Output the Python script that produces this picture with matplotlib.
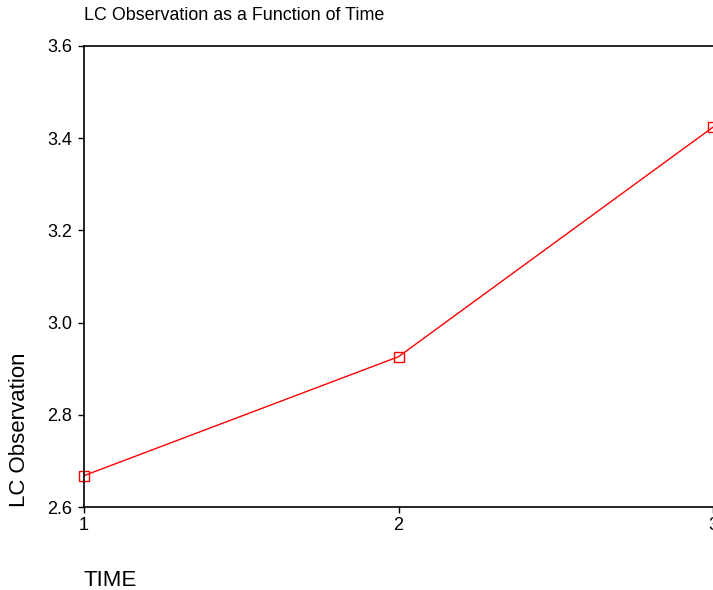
import matplotlib
matplotlib.use("Agg")
import matplotlib.pyplot as plt

# data
time = [1, 2, 3]
lc_obs = [2.668, 2.926, 3.424]
yticks = [2.6, 2.8, 3.0, 3.2, 3.4, 3.6]

plt.rcParams['font.family'] = ['Liberation Sans', 'DejaVu Sans']

fig = plt.figure(figsize=(7.13, 5.9), dpi=100)
ax = fig.add_axes([84 / 713, 1 - 507 / 590, 1 - 84 / 713, (507 - 46) / 590])

ax.plot(time, lc_obs, color='red', linewidth=1.0, marker='s', markersize=7,
        markerfacecolor='none', markeredgecolor='red', markeredgewidth=1.0,
        clip_on=False)

ax.set_xlim(1, 3)
ax.set_ylim(2.6, 3.6)
ax.set_xticks(time)
ax.set_yticks(yticks)
ax.set_yticklabels([f"{v:.1f}" for v in yticks])
ax.tick_params(labelsize=13, length=4.5, width=1, direction='out', pad=4)
ax.tick_params(axis='x', pad=3)
ax.spines['right'].set_visible(False)
for s in ['left', 'top', 'bottom']:
    ax.spines[s].set_linewidth(1.2)

fig.text(84 / 713, 1 - 16 / 590, "LC Observation as a Function of Time",
         fontsize=12.9, ha='left', va='center')
fig.text(20 / 713, 1 - 507 / 590, "LC Observation", fontsize=16,
         rotation=90, ha='center', va='bottom')
fig.text(84 / 713, 1 - 580 / 590, "TIME", fontsize=16, ha='left', va='center')

fig.savefig("out.png", dpi=100)
